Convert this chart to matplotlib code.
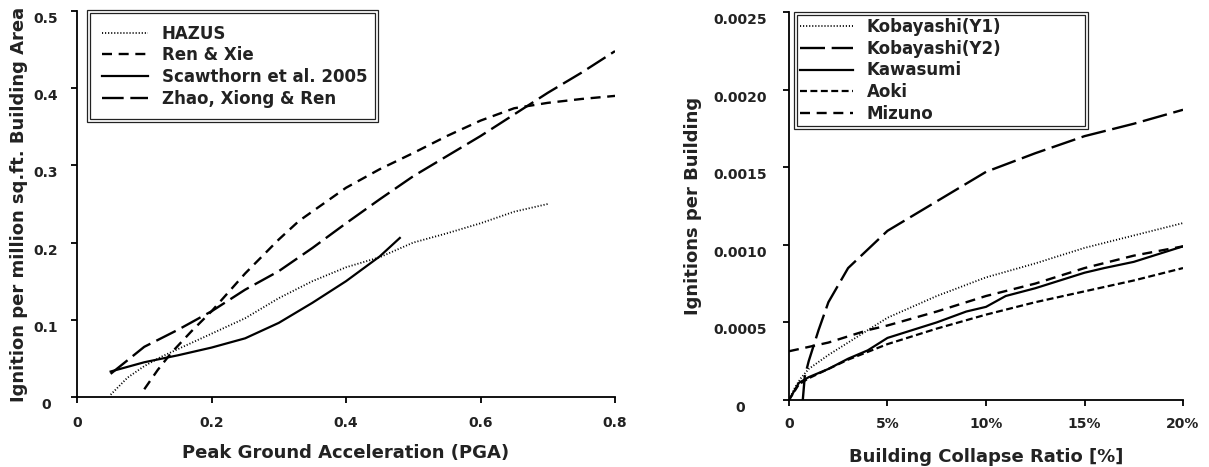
import matplotlib
matplotlib.use("Agg")
import matplotlib.pyplot as plt
import matplotlib.transforms as mtransforms
from matplotlib.patches import Rectangle

plt.rcParams["font.family"] = ["DejaVu Sans"]
plt.rcParams["font.weight"] = "bold"
plt.rcParams["axes.labelweight"] = "bold"
plt.rcParams["text.color"] = "#222222"
plt.rcParams["xtick.labelcolor"] = "#222222"
plt.rcParams["ytick.labelcolor"] = "#222222"
plt.rcParams["axes.labelcolor"] = "#222222"
plt.rcParams["lines.scale_dashes"] = False

# ---------------- left panel data (PGA) ----------------
hazus_x = [0.05, 0.075, 0.1, 0.125, 0.15, 0.2, 0.25, 0.3, 0.35, 0.4, 0.45, 0.5, 0.55, 0.6, 0.65, 0.7]
hazus_y = [0.003, 0.025, 0.04, 0.052, 0.062, 0.082, 0.102, 0.128, 0.15, 0.168, 0.181, 0.2, 0.212, 0.225, 0.24, 0.25]

renxie_x = [0.1, 0.12, 0.14, 0.17, 0.2, 0.25, 0.3, 0.33, 0.4, 0.45, 0.5, 0.55, 0.6, 0.65, 0.7, 0.75, 0.8]
renxie_y = [0.01, 0.035, 0.057, 0.085, 0.111, 0.16, 0.204, 0.228, 0.271, 0.295, 0.316, 0.338, 0.358, 0.374, 0.381, 0.386, 0.39]

scaw_x = [0.05, 0.1, 0.15, 0.2, 0.25, 0.3, 0.35, 0.4, 0.45, 0.48]
scaw_y = [0.033, 0.045, 0.054, 0.064, 0.076, 0.096, 0.122, 0.15, 0.182, 0.206]

zhao_x = [0.05, 0.1, 0.15, 0.2, 0.25, 0.3, 0.35, 0.4, 0.45, 0.5, 0.55, 0.6, 0.65, 0.7, 0.75, 0.8]
zhao_y = [0.03, 0.065, 0.087, 0.111, 0.139, 0.163, 0.193, 0.225, 0.256, 0.286, 0.312, 0.338, 0.366, 0.394, 0.42, 0.448]

# ---------------- right panel data (collapse ratio, %) ----------------
koba1_x = [0, 0.3, 0.6, 1, 2, 3, 4, 5, 7.5, 10, 12.5, 15, 17.5, 20]
koba1_y = [0.0, 0.00008, 0.00014, 0.0002, 0.00029, 0.00037, 0.00045, 0.00053, 0.00067, 0.00079, 0.00088, 0.00098, 0.00106, 0.00114]

koba2_x = [0.7, 0.8, 1, 1.5, 2, 3, 4, 5, 7.5, 10, 12.5, 15, 17.5, 20]
koba2_y = [0.0, 0.00015, 0.00025, 0.00045, 0.00063, 0.00085, 0.00097, 0.00109, 0.00128, 0.00147, 0.00159, 0.0017, 0.00178, 0.00187]

kawa_x = [0, 0.5, 1, 2, 3, 4, 5, 6, 7.5, 9, 10, 11, 12.5, 14, 15, 16, 17.5, 19, 20]
kawa_y = [0.0, 0.00011, 0.000147, 0.0002, 0.000266, 0.00032, 0.0004, 0.00044, 0.0005, 0.00057, 0.0006, 0.00067, 0.00072, 0.00078, 0.00082, 0.00085, 0.00089, 0.00095, 0.00099]

aoki_x = [0, 0.5, 1, 2, 3, 4, 5, 7.5, 10, 12.5, 15, 17.5, 20]
aoki_y = [0.0, 0.0001, 0.00014, 0.0002, 0.00026, 0.00031, 0.00036, 0.00046, 0.00055, 0.00063, 0.0007, 0.00077, 0.00085]

mizu_x = [0, 2, 4, 5, 7.5, 10, 12.5, 15, 17.5, 20]
mizu_y = [0.000314, 0.00037, 0.00045, 0.00048, 0.00057, 0.00067, 0.00075, 0.00085, 0.00093, 0.00099]

left_xticks = [0, 0.2, 0.4, 0.6, 0.8]
left_xlabels = ["0", "0.2", "0.4", "0.6", "0.8"]
left_yticks = [0, 0.1, 0.2, 0.3, 0.4, 0.5]
left_ylabels = ["0", "0.1", "0.2", "0.3", "0.4", "0.5"]
right_xticks = [0, 5, 10, 15, 20]
right_xlabels = ["0", "5%", "10%", "15%", "20%"]
right_yticks = [0, 0.0005, 0.001, 0.0015, 0.002, 0.0025]
right_ylabels = ["0", "0.0005", "0.0010", "0.0015", "0.0020", "0.0025"]

# line styles (points)
DOT = (0, (0.8, 1.4))
SHORT = (0, (7.2, 4.8))
LONG = (0, (15.6, 4.8))
LONGER = (0, (18, 4.8))
TINY = (0, (5, 2.5))

fig = plt.figure(figsize=(12.09, 4.67), dpi=100)
ax1 = fig.add_axes([0.0637, 0.1499, 0.445, 0.8266])
ax2 = fig.add_axes([0.6526, 0.1435, 0.3259, 0.8308])

ax1.plot(hazus_x, hazus_y, color="black", lw=1.3, ls=DOT, label="HAZUS")
ax1.plot(renxie_x, renxie_y, color="black", lw=1.7, ls=SHORT, label="Ren & Xie")
ax1.plot(scaw_x, scaw_y, color="black", lw=1.6, ls="-", label="Scawthorn et al. 2005")
ax1.plot(zhao_x, zhao_y, color="black", lw=1.7, ls=LONG, label="Zhao, Xiong & Ren")

ax2.plot(koba1_x, koba1_y, color="black", lw=1.3, ls=DOT, label="Kobayashi(Y1)")
ax2.plot(koba2_x, koba2_y, color="black", lw=1.7, ls=LONGER, label="Kobayashi(Y2)")
ax2.plot(kawa_x, kawa_y, color="black", lw=1.6, ls="-", label="Kawasumi")
ax2.plot(aoki_x, aoki_y, color="black", lw=1.6, ls=TINY, label="Aoki")
ax2.plot(mizu_x, mizu_y, color="black", lw=1.7, ls=SHORT, label="Mizuno")

ax1.set_xlim(0, 0.8)
ax1.set_ylim(0, 0.5)
ax2.set_xlim(0, 20)
ax2.set_ylim(0, 0.0025)

ax1.set_xticks(left_xticks, left_xlabels)
ax1.set_yticks(left_yticks, left_ylabels)
ax2.set_xticks(right_xticks, right_xlabels)
ax2.set_yticks(right_yticks, right_ylabels)

# y tick labels sit a bit below their ticks in the original
shift = mtransforms.ScaledTranslation(0, -6.5 / 100, fig.dpi_scale_trans)

legends = []
for ax, ypad, xpad, lbox, bpad, hlen in ((ax1, 18, 9.5, (0.0186, 0.60, 0.541, 0.4026), 0.88, 2.8),
                                         (ax2, 31, 7.5, (0.0127, 0.60, 0.746, 0.40), 0.36, 3.2)):
    for s in ("top", "right"):
        ax.spines[s].set_visible(False)
    ax.spines["left"].set_linewidth(1.3)
    ax.spines["bottom"].set_linewidth(1.3)
    ax.tick_params(axis="both", direction="out", length=4.5, width=1.3, labelsize=10)
    ax.tick_params(axis="x", pad=xpad)
    ax.tick_params(axis="y", pad=ypad)
    for t in ax.get_yticklabels():
        t.set_ha("center")
        t.set_transform(t.get_transform() + shift)
    leg = ax.legend(loc="upper left", bbox_to_anchor=lbox, mode="expand",
                    borderaxespad=0, fontsize=12, handlelength=hlen,
                    handletextpad=0.8, labelspacing=0.22, borderpad=bpad,
                    fancybox=False, framealpha=1)
    leg.get_frame().set_edgecolor("#222222")
    leg.get_frame().set_linewidth(0.9)
    legends.append(leg)

ax1.set_xlabel("Peak Ground Acceleration (PGA)", fontsize=13)
ax1.xaxis.set_label_coords(0.5, -0.1218)
ax1.set_ylabel("Ignition per million sq.ft. Building Area", fontsize=13)
ax1.yaxis.set_label_coords(-0.0907, 0.5)
ax2.set_xlabel("Building Collapse Ratio [%]", fontsize=13)
ax2.xaxis.set_label_coords(0.5, -0.1245)
ax2.set_ylabel("Ignitions per Building", fontsize=13)
ax2.yaxis.set_label_coords(-0.221, 0.5)

# inner line of the double legend border
fig.canvas.draw()
inv = fig.transFigure.inverted()
for leg in legends:
    bb = leg.get_frame().get_window_extent()
    (x0, y0), (x1, y1) = inv.transform([(bb.x0 + 3, bb.y0 + 3), (bb.x1 - 3, bb.y1 - 3)])
    fig.add_artist(Rectangle((x0, y0), x1 - x0, y1 - y0, transform=fig.transFigure,
                             fill=False, edgecolor="#222222", lw=0.9))

fig.savefig("out.png", dpi=100)
